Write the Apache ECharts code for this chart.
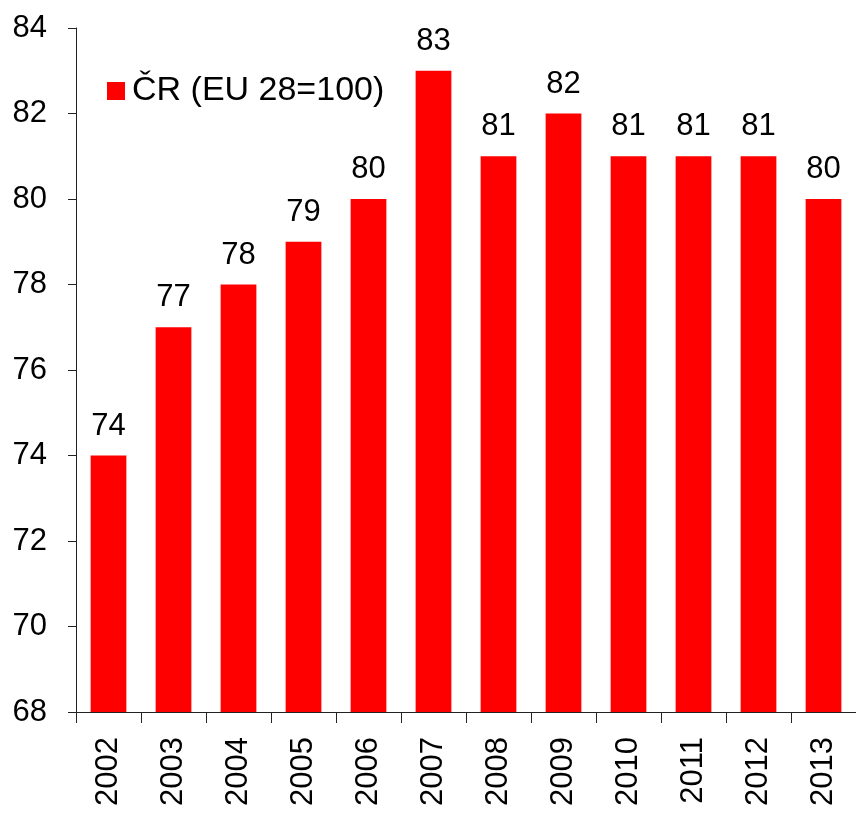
<!DOCTYPE html>
<html>
<head>
<meta charset="utf-8">
<script src="https://cdn.jsdelivr.net/npm/echarts@6/dist/echarts.min.js"></script>
<style>
  html, body { margin: 0; padding: 0; background: #fff; }
  #chart { width: 856px; height: 814px; }
</style>
</head>
<body>
<div id="chart"></div>
<script>
// data
const years = ["2002", "2003", "2004", "2005", "2006", "2007", "2008", "2009", "2010", "2011", "2012", "2013"];
const crValues = [74, 77, 78, 79, 80, 83, 81, 82, 81, 81, 81, 80];
const seriesName = "ČR (EU 28=100)";

const font = "'Liberation Sans', Arial, sans-serif";
const myChart = echarts.init(document.getElementById("chart"), null, { renderer: "canvas" });

const option = {
  animation: false,
  textStyle: { fontFamily: font },
  grid: {
    left: 76,
    right: 0,
    top: 28,
    bottom: 102,
    containLabel: false,
  },
  legend: {
    data: [seriesName],
    left: 102,
    top: 69,
    icon: "rect",
    itemWidth: 18,
    itemHeight: 18,
    itemGap: 6,
    textStyle: {
      fontFamily: font,
      fontSize: 34,
      color: "#000",
      padding: [0, 0, 0, 2],
    },
  },
  xAxis: {
    type: "category",
    data: years,
    axisLine: { lineStyle: { color: "#222", width: 1 } },
    axisTick: { show: true, alignWithLabel: false, length: 11, lineStyle: { color: "#222" } },
    axisLabel: {
      rotate: 90,
      interval: 0,
      margin: 25,
      fontSize: 31,
      color: "#000",
      fontFamily: font,
    },
  },
  yAxis: {
    type: "value",
    min: 68,
    max: 84,
    interval: 2,
    axisLine: { show: true, lineStyle: { color: "#222", width: 1 } },
    axisTick: { show: true, length: 8, lineStyle: { color: "#222" } },
    splitLine: { show: false },
    axisLabel: {
      margin: 29,
      fontSize: 31,
      color: "#000",
      fontFamily: font,
    },
  },
  series: [
    {
      name: seriesName,
      type: "bar",
      data: crValues,
      barCategoryGap: "45%",
      itemStyle: { color: "#FF0000" },
      label: {
        show: true,
        position: "top",
        distance: 14,
        fontSize: 31,
        color: "#000",
        fontFamily: font,
      },
    },
  ],
};

myChart.setOption(option);
</script>
</body>
</html>
